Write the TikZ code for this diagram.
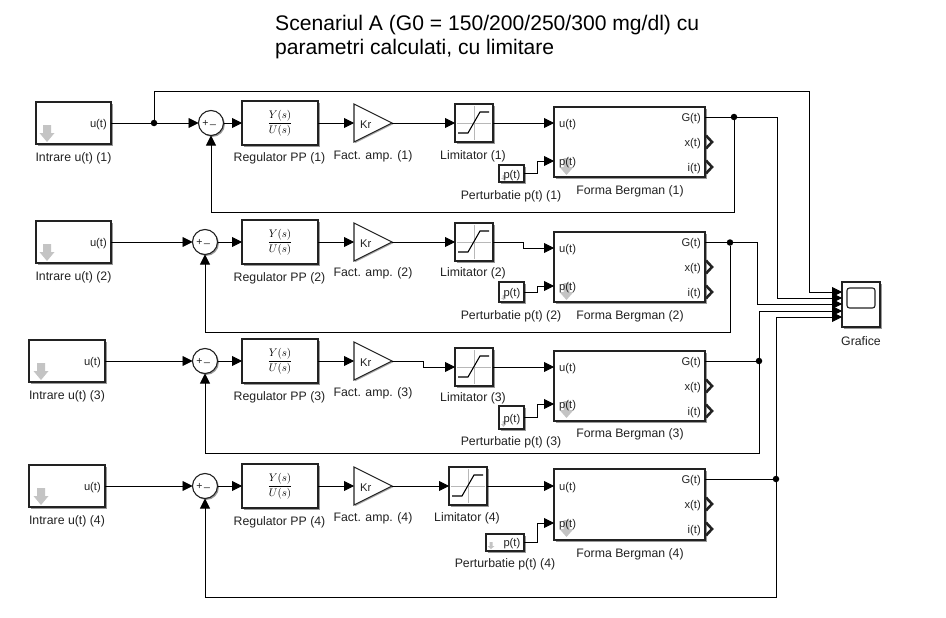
\documentclass[tikz,border=0pt]{standalone}
\usepackage{fontspec}
\usepackage{amsmath}
\setmainfont{Liberation Sans}
\usetikzlibrary{arrows.meta,shadows,calc}
\definecolor{edgec}{HTML}{222222}
\definecolor{txt}{HTML}{222222}
\definecolor{arrowg}{HTML}{C4C4C4}
\definecolor{crossg}{HTML}{B8B8B8}
\tikzset{
  blockbox/.style={draw=edgec,line width=1.1pt,fill=white,inner sep=0pt,outer sep=0pt,
    drop shadow={shadow xshift=1.6pt,shadow yshift=-1.6pt,fill=black,opacity=.4}},
  wire/.style={draw=black,line width=.9pt},
  awire/.style={wire,-{Triangle[length=10pt,width=10pt]}},
  junction/.style={circle,fill=black,inner sep=0pt,minimum size=6.5pt},
  lab/.style={font=\fontsize{12.3}{14}\selectfont,text=txt,inner sep=0pt,yshift=-1.2pt},
  port/.style={font=\fontsize{11.2}{13}\selectfont,text=txt,inner sep=0pt,yshift=-1.2pt},
  chev/.style={draw=edgec,line width=2.6pt,line join=miter},
  sumc/.style={circle,draw=edgec,line width=1.1pt,fill=white,inner sep=0pt,outer sep=0pt,minimum size=25pt,
    drop shadow={shadow xshift=1.4pt,shadow yshift=-1.4pt,fill=black,opacity=.4}},
  sumsign/.style={inner sep=0pt,font=\fontsize{10.5}{10.5}\selectfont,text=txt},
}
% name, x1,y1,x2,y2
\newcommand{\blk}[5]{\node[blockbox,minimum width={(#4-#2)*1pt},minimum height={(#5-#3)*1pt}] (#1) at ({(#2+#4)/2},{(#3+#5)/2}) {};}
% grey arrow: cx, ytop, ybot, half head width, half shaft, yhead
\newcommand{\garrow}[6]{\fill[arrowg] (#1-#5,#2) -- (#1+#5,#2) -- (#1+#5,#6) -- (#1+#4,#6) -- (#1,#3) -- (#1-#4,#6) -- (#1-#5,#6) -- cycle;}
\newcommand{\gainblk}[5]{%
  \node[inner sep=0pt,outer sep=0pt,minimum width={(#4-#2)*1pt},minimum height={(#5-#3)*1pt}] (gain#1) at ({(#2+#4)/2},{(#3+#5)/2}) {};
  \draw[edgec,line width=1.1pt,line join=miter,fill=white,drop shadow={shadow xshift=1.2pt,shadow yshift=-1.2pt,fill=black,opacity=.35}] (gain#1.north west) -- (gain#1.east) -- (gain#1.south west) -- cycle;
  \node[port,anchor=west] (kr#1) at ($(gain#1.west)+(6,0)$) {Kr};}
\newcommand{\limblk}[5]{%
  \blk{lim#1}{#2}{#3}{#4}{#5}
  \draw[crossg,line width=.8pt] ($(lim#1.west)+(2,0)$) -- ($(lim#1.east)+(-2,0)$) ($(lim#1.north)+(0,2)$) -- ($(lim#1.south)+(0,-2)$);
  \draw[black,line width=1.1pt] ($(lim#1.west)+(3,10)$) -- ($(lim#1.west)+(13,10)$) -- ($(lim#1.west)+(25,-11)$) -- ($(lim#1.west)+(34,-11)$);}
\newcommand{\sumblk}[3]{%
  \node[sumc] (sum#1) at (#2,#3) {};
  \node[sumsign] (plus#1) at (#2-5.5,#3) {+};
  \node[sumsign] (minus#1) at (#2+2,#3+2) {\_};}
\newcommand{\regblk}[5]{%
  \blk{reg#1}{#2}{#3}{#4}{#5}
  \node[inner sep=0pt,text=black] (tf#1) at (reg#1) {\fontsize{11.2}{13}\selectfont$\displaystyle\frac{Y(s)}{U(s)}$};}
% number, x1,y1,x2,y2, yu, yp, yG
\newcommand{\bergblk}[8]{%
  \blk{berg#1}{#2}{#3}{#4}{#5}
  \coordinate (b#1u) at (#2,#6);
  \coordinate (b#1p) at (#2,#7);
  \coordinate (b#1G) at (#4,#8);
  \garrow{#2+12.5}{#7-3}{#7+14}{7}{3}{#7+6}
  \node[port,anchor=west] (bt#1u) at (#2+5,#6) {u(t)};
  \node[port,anchor=west] (bt#1p) at (#2+5,#7) {p(t)};
  \node[port,anchor=east] (bt#1G) at (#4-4,#8) {G(t)};
}
\begin{document}
\begin{tikzpicture}[x=1pt,y=-1pt]
\useasboundingbox (0,0) rectangle (946,618);
\fill[white] (0,0) rectangle (946,618);
% title
\node[anchor=west,inner sep=0pt,font=\fontsize{21.1}{24}\selectfont,text=black] (title1) at (275,25) {Scenariul A (G0 = 150/200/250/300 mg/dl) cu};
\node[anchor=west,inner sep=0pt,font=\fontsize{21.1}{24}\selectfont,text=black] (title2) at (275,49.5) {parametri calculati, cu limitare};

% inputs
\blk{in1}{36}{102}{111}{144}
\blk{in2}{36}{221}{111}{263}
\blk{in3}{29}{340}{105}{382}
\blk{in4}{29}{465}{105}{507}
\garrow{47}{125}{142}{7.5}{4}{133}
\garrow{47}{244}{261}{7.5}{4}{252}
\garrow{41}{363}{380}{7.5}{4}{371}
\garrow{41}{488}{505}{7.5}{4}{496}
\node[port,anchor=east] (it1) at (107,123) {u(t)};
\node[port,anchor=east] (it2) at (107,242) {u(t)};
\node[port,anchor=east] (it3) at (101,361) {u(t)};
\node[port,anchor=east] (it4) at (101,486) {u(t)};
\node[lab] (il1) at (73.5,157) {Intrare u(t) (1)};
\node[lab] (il2) at (73.5,276) {Intrare u(t) (2)};
\node[lab] (il3) at (67,395) {Intrare u(t) (3)};
\node[lab] (il4) at (67,520) {Intrare u(t) (4)};

% sums
\sumblk{1}{211}{123}
\sumblk{2}{205}{242}
\sumblk{3}{205}{361}
\sumblk{4}{205}{486}

% regulators
\regblk{1}{242}{101}{318}{145}
\regblk{2}{242}{220}{318}{264}
\regblk{3}{242}{339}{318}{383}
\regblk{4}{242}{464}{318}{508}
\node[lab] (rl1) at (279.5,157) {Regulator PP (1)};
\node[lab] (rl2) at (279.5,277) {Regulator PP (2)};
\node[lab] (rl3) at (279.5,396) {Regulator PP (3)};
\node[lab] (rl4) at (279.5,521) {Regulator PP (4)};

% gains
\gainblk{1}{354}{104}{392}{142}
\gainblk{2}{354}{223}{392}{261}
\gainblk{3}{354}{342}{392}{380}
\gainblk{4}{354}{467}{392}{505}
\node[lab] (gl1) at (373,155) {Fact. amp. (1)};
\node[lab] (gl2) at (373,272) {Fact. amp. (2)};
\node[lab] (gl3) at (373,392) {Fact. amp. (3)};
\node[lab] (gl4) at (373,517) {Fact. amp. (4)};

% limiters
\limblk{1}{455}{104}{493}{142}
\limblk{2}{455}{223}{493}{261}
\limblk{3}{455}{348}{493}{386}
\limblk{4}{449}{467}{487}{505}
\node[lab] (ll1) at (473,155) {Limitator (1)};
\node[lab] (ll2) at (473,272) {Limitator (2)};
\node[lab] (ll3) at (473,397) {Limitator (3)};
\node[lab] (ll4) at (467,517) {Limitator (4)};

% Bergman blocks
\bergblk{1}{554}{107}{705}{177}{123}{161}{117}
\bergblk{2}{554}{232}{705}{302}{248}{286}{242.5}
\bergblk{3}{554}{351}{705}{421}{367}{404}{361}
\bergblk{4}{554}{469}{705}{540}{486}{523}{479}
\node[port,anchor=east] (bx1) at (701,142) {x(t)};
\node[port,anchor=east] (bi1) at (701,167) {i(t)};
\node[port,anchor=east] (bx2) at (701,267) {x(t)};
\node[port,anchor=east] (bi2) at (701,292) {i(t)};
\node[port,anchor=east] (bx3) at (701,386) {x(t)};
\node[port,anchor=east] (bi3) at (701,411) {i(t)};
\node[port,anchor=east] (bx4) at (701,504) {x(t)};
\node[port,anchor=east] (bi4) at (701,529) {i(t)};
\foreach \yy in {142,167,267,292,386,411,504,529}{
  \draw[chev] (706,\yy-6.5) -- (712,\yy) -- (706,\yy+6.5);
}
\node[lab] (fl1) at (630,190) {Forma Bergman (1)};
\node[lab] (fl2) at (630,315) {Forma Bergman (2)};
\node[lab] (fl3) at (630,433) {Forma Bergman (3)};
\node[lab] (fl4) at (630,553) {Forma Bergman (4)};

% perturbations
\blk{pe1}{499}{165}{524}{182}
\blk{pe2}{499}{282}{524}{302}
\blk{pe3}{499}{406}{524}{429}
\blk{pe4}{486}{534}{524}{551}
\garrow{503.5}{175}{180}{2.5}{1}{178}
\garrow{503.5}{295}{300}{2.5}{1}{298}
\garrow{503.5}{421}{427}{2.5}{1}{424}
\garrow{491}{542}{549}{3.5}{1.5}{546}
\node[port,anchor=east] (pt1) at (520.5,174) {p(t)};
\node[port,anchor=east] (pt2) at (520.5,292) {p(t)};
\node[port,anchor=east] (pt3) at (520.5,418) {p(t)};
\node[port,anchor=east] (pt4) at (520.5,542.5) {p(t)};
\node[lab] (pl1) at (511,195) {Perturbatie p(t) (1)};
\node[lab] (pl2) at (511,315) {Perturbatie p(t) (2)};
\node[lab] (pl3) at (511,441) {Perturbatie p(t) (3)};
\node[lab] (pl4) at (505,563) {Perturbatie p(t) (4)};

% scope
\blk{scope}{842}{282}{880}{327}
\draw[edgec,line width=1.1pt,rounded corners=2.5pt,fill=white] (847,288) rectangle (875,308);
\node[lab] (sl) at (861,340) {Grafice};
\coordinate (s1) at (842,292);
\coordinate (s2) at (842,298);
\coordinate (s3) at (842,304);
\coordinate (s4) at (842,311);
\coordinate (s5) at (842,317);

% junctions
\node[junction] (j0) at (154,123) {};
\node[junction] (j1) at (734,117) {};
\node[junction] (j2) at (730,242.5) {};
\node[junction] (j3) at (759,361) {};
\node[junction] (j4) at (776,479) {};

% helper corners
\coordinate (t1) at (809,91);
\coordinate (v1) at (777,117);
\coordinate (v2) at (757,242.5);
\coordinate (fb1) at (211,212);
\coordinate (fb2) at (205,332);
\coordinate (fb3) at (205,453);
\coordinate (fb4) at (205,597);
\coordinate (m2) at (523,248);
\coordinate (m3) at (423,361);
\coordinate (pm1) at (537,173.5);
\coordinate (pm2) at (537,292);
\coordinate (pm3) at (537,417.5);
\coordinate (pm4) at (537,542.5);

% row 1
\draw[wire] (in1.east) -- (j0);
\draw[awire] (j0) -- (sum1.west);
\draw[awire] (j0) |- (t1) |- (s1);
\draw[awire] (sum1.east) -- (reg1.west);
\draw[awire] (reg1.east) -- (gain1.west);
\draw[awire] (gain1.east) -- (lim1.west);
\draw[awire] (lim1.east) -- (b1u);
\draw[awire] (pe1.east) -- (pm1) |- (b1p);
\draw[wire] (b1G) -- (j1);
\draw[awire] (j1) -- (v1) |- (s2);
\draw[awire] (j1) |- (fb1) -- (sum1.south);
% row 2
\draw[awire] (in2.east) -- (sum2.west);
\draw[awire] (sum2.east) -- (reg2.west);
\draw[awire] (reg2.east) -- (gain2.west);
\draw[awire] (gain2.east) -- (lim2.west);
\draw[awire] (lim2.east) -| (m2) |- (b2u);
\draw[awire] (pe2.east) -- (pm2) |- (b2p);
\draw[wire] (b2G) -- (j2);
\draw[awire] (j2) -- (v2) |- (s3);
\draw[awire] (j2) |- (fb2) -- (sum2.south);
% row 3
\draw[awire] (in3.east) -- (sum3.west);
\draw[awire] (sum3.east) -- (reg3.west);
\draw[awire] (reg3.east) -- (gain3.west);
\draw[awire] (gain3.east) -- (m3) |- (lim3.west);
\draw[awire] (lim3.east) -- (b3u);
\draw[awire] (pe3.east) -- (pm3) |- (b3p);
\draw[wire] (b3G) -- (j3);
\draw[awire] (j3) |- (s4);
\draw[awire] (j3) |- (fb3) -- (sum3.south);
% row 4
\draw[awire] (in4.east) -- (sum4.west);
\draw[awire] (sum4.east) -- (reg4.west);
\draw[awire] (reg4.east) -- (gain4.west);
\draw[awire] (gain4.east) -- (lim4.west);
\draw[awire] (lim4.east) -- (b4u);
\draw[awire] (pe4.east) -- (pm4) |- (b4p);
\draw[wire] (b4G) -- (j4);
\draw[awire] (j4) |- (s5);
\draw[awire] (j4) |- (fb4) -- (sum4.south);
\end{tikzpicture}
\end{document}
